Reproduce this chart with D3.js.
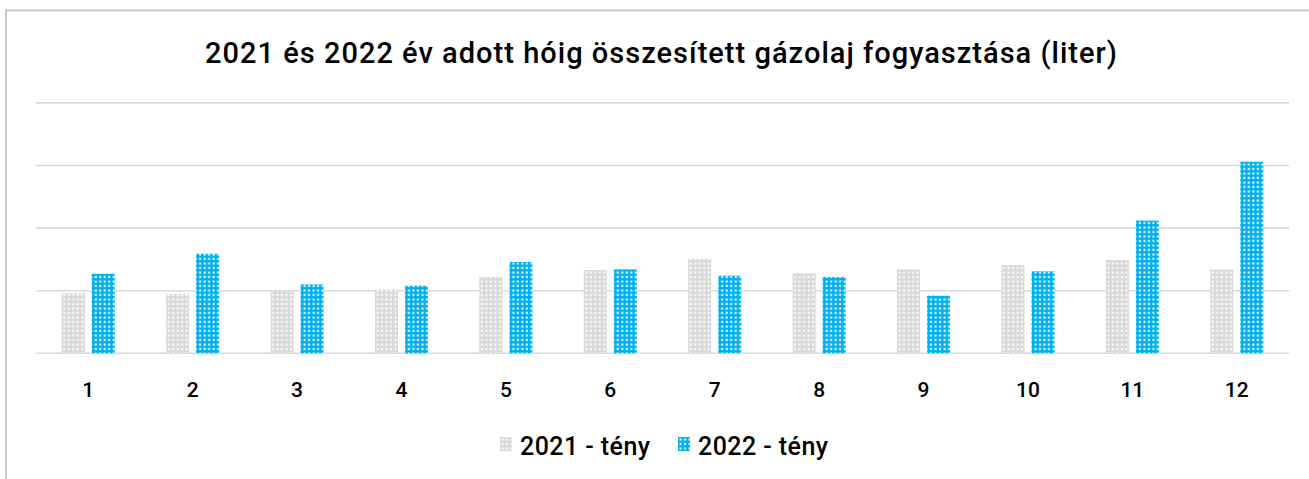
<!DOCTYPE html>
<html lang="hu">
<head>
<meta charset="UTF-8">
<title>Gázolaj fogyasztás</title>
<script src="https://d3js.org/d3.v7.min.js"></script>
<style>
  body { margin: 0; background: #ffffff; }
  svg { display: block; font-family: Roboto, "DejaVu Sans", sans-serif; }
</style>
</head>
<body>
<svg id="chart" width="1309" height="479"></svg>
<script>
// months (hó)
const months = ['1', '2', '3', '4', '5', '6', '7', '8', '9', '10', '11', '12'];
const seriesNames = ['2021 - tény', '2022 - tény'];
// cumulative values (one gridline = 100)
const values2021 = [96, 95, 100, 102, 122, 133, 151, 128, 134, 141, 149, 134];
const values2022 = [127, 159, 110, 108, 146, 134, 124, 122, 92, 131, 212, 306];
const gridTicks = [0, 100, 200, 300, 400];

const colours = { '2021 - tény': '#d9d9d9', '2022 - tény': '#00b0f0' };
const patternIds = { '2021 - tény': 'pat2021', '2022 - tény': 'pat2022' };

let svg = d3.select('#chart');

// dotted fill patterns
let defs = svg.append('defs');
seriesNames.forEach(function(name) {
  let p = defs.append('pattern')
    .attr('id', patternIds[name])
    .attr('patternUnits', 'userSpaceOnUse')
    .attr('width', 4.5)
    .attr('height', 4.5);
  p.append('rect').attr('width', 4.5).attr('height', 4.5).attr('fill', colours[name]);
  p.append('rect').attr('x', 1.5).attr('y', 1.5).attr('width', 2).attr('height', 2).attr('fill', '#ffffff');
});

// outer frame (runs off the right and bottom edge)
svg.append('rect')
  .attr('x', 6).attr('y', 10.5)
  .attr('width', 1320).attr('height', 500)
  .attr('fill', 'none')
  .attr('stroke', '#c8c8c8')
  .attr('stroke-width', 2);

const plotLeft = 36, plotRight = 1289, plotTop = 102.9, plotBottom = 353.3;

let x0 = d3.scaleBand().domain(months).range([plotLeft, plotRight]).padding(0);
let y = d3.scaleLinear().domain([0, 400]).range([plotBottom, plotTop]);

// gridlines
svg.append('g').selectAll('line')
  .data(gridTicks)
  .join('line')
  .attr('x1', plotLeft).attr('x2', plotRight)
  .attr('y1', d => y(d)).attr('y2', d => y(d))
  .attr('stroke', '#d9d9d9')
  .attr('stroke-width', 1.6);

// bars
let rows = months.map(function(m, i) {
  return { month: m, vals: [
    { name: seriesNames[0], v: values2021[i] },
    { name: seriesNames[1], v: values2022[i] }
  ]};
});

let groups = svg.append('g').selectAll('g')
  .data(rows)
  .join('g')
  .attr('transform', d => 'translate(' + (x0(d.month) + x0.bandwidth() / 2 - 26.5) + ',0)');

let x1 = d3.scaleBand().domain(seriesNames).range([0, 53]).paddingInner(0.2333);

groups.selectAll('rect')
  .data(d => d.vals)
  .join('rect')
  .attr('x', d => x1(d.name))
  .attr('width', x1.bandwidth())
  .attr('y', d => y(d.v))
  .attr('height', d => y(0) - y(d.v))
  .attr('fill', d => 'url(#' + patternIds[d.name] + ')');

// x axis labels
let xAxis = d3.axisBottom(x0).tickSize(0).tickPadding(0);
let xg = svg.append('g')
  .attr('transform', 'translate(0,' + 397 + ')')
  .call(xAxis);
xg.select('.domain').remove();
xg.selectAll('text')
  .attr('y', 0)
  .attr('dy', 0)
  .style('font-size', '21px')
  .style('font-weight', 500)
  .style('font-family', 'Roboto, sans-serif')
  .attr('fill', '#000000');

// title
svg.append('text')
  .attr('x', 661).attr('y', 63)
  .attr('text-anchor', 'middle')
  .attr('textLength', 912)
  .attr('lengthAdjust', 'spacing')
  .style('font-size', '29px')
  .style('font-weight', 500)
  .attr('fill', '#000000')
  .text('2021 és 2022 év adott hóig összesített gázolaj fogyasztása (liter)');

// legend
let legendX = [500, 678];
let legend = svg.append('g').selectAll('g')
  .data(seriesNames)
  .join('g')
  .attr('transform', (d, i) => 'translate(' + legendX[i] + ',' + 437 + ')');
legend.append('rect')
  .attr('width', 12).attr('height', 14)
  .attr('fill', d => 'url(#' + patternIds[d] + ')');
legend.append('text')
  .attr('x', 20).attr('y', 18)
  .attr('textLength', 130)
  .attr('lengthAdjust', 'spacing')
  .style('font-size', '25px')
  .style('font-weight', 500)
  .attr('fill', '#000000')
  .text(d => d);
</script>
</body>
</html>
